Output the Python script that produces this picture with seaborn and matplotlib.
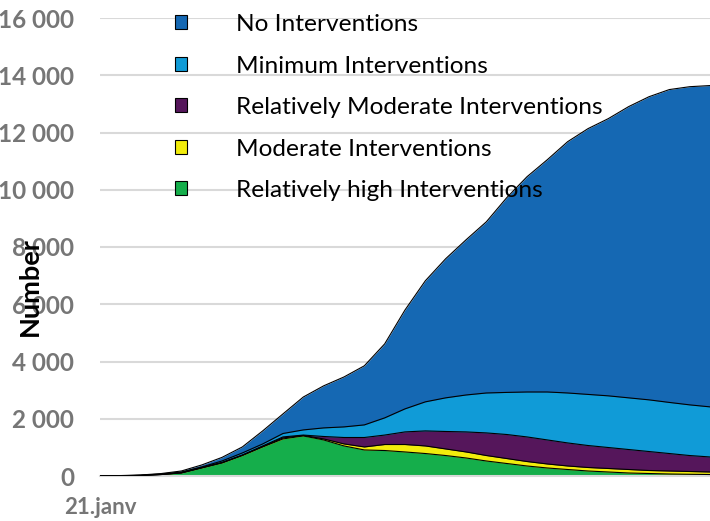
import numpy as np
import pandas as pd
import seaborn as sns
import matplotlib.pyplot as plt
from matplotlib.patches import Patch
from matplotlib.ticker import FuncFormatter

# jours depuis le 21 janvier (pas de 4 jours)
days = list(range(0, 121, 4))

no_interv = [0, 15, 35, 85, 175, 385, 650, 1015, 1575, 2170, 2760, 3150, 3460, 3850,
             4615, 5800, 6820, 7590, 8250, 8880, 9720, 10455, 11050, 11680, 12135,
             12485, 12905, 13250, 13500, 13600, 13640]
min_interv = [0, 10, 25, 70, 140, 315, 525, 805, 1120, 1485, 1610, 1680, 1715, 1785,
              2030, 2345, 2590, 2730, 2830, 2900, 2920, 2935, 2935, 2900, 2850, 2800,
              2730, 2660, 2570, 2485, 2415]
rel_mod_interv = [0, 8, 20, 55, 115, 295, 475, 735, 1050, 1365, 1430, 1380, 1345, 1345,
                  1430, 1540, 1575, 1555, 1540, 1505, 1450, 1365, 1260, 1155, 1065, 995,
                  925, 855, 785, 715, 665]
mod_interv = [0, 8, 19, 52, 110, 287, 465, 725, 1030, 1330, 1415, 1295, 1120, 1015,
              1100, 1100, 1050, 945, 840, 715, 610, 505, 420, 350, 297, 262, 227, 192,
              175, 157, 140]
rel_high_interv = [0, 8, 18, 50, 105, 280, 455, 715, 1015, 1295, 1400, 1260, 1050, 910,
                   890, 840, 785, 715, 630, 525, 437, 350, 280, 227, 175, 140, 105, 87,
                   70, 60, 52]

series_names = ["No Interventions", "Minimum Interventions",
                "Relatively Moderate Interventions", "Moderate Interventions",
                "Relatively high Interventions"]
colors = ["#1568b3", "#109bd7", "#55165b", "#f2ec0c", "#15ae4b"]

df = pd.DataFrame({"day": days,
                   series_names[0]: no_interv,
                   series_names[1]: min_interv,
                   series_names[2]: rel_mod_interv,
                   series_names[3]: mod_interv,
                   series_names[4]: rel_high_interv})
df_long = df.melt(id_vars="day", var_name="scenario", value_name="number")

sns.set_theme(style="whitegrid")
plt.rcParams['font.family'] = ['Lato', 'DejaVu Sans']

fig = plt.figure(figsize=(7.1, 5.21), dpi=100)
ax = fig.add_axes([100 / 710, 45 / 521, 610 / 710, 458 / 521])

# aires superposées (pas empilées), la plus grande derrière
for name, col in zip(series_names, colors):
    ax.fill_between(df["day"], 0, df[name], color=col, linewidth=0, zorder=2)
sns.lineplot(data=df_long, x="day", y="number", hue="scenario",
             palette=["black"] * 5, linewidth=0.8, legend=False, ax=ax, zorder=3)

ax.set_xlim(0, 120)
ax.set_ylim(0, 16000)
ax.set_yticks(range(0, 16001, 2000))
ax.yaxis.set_major_formatter(FuncFormatter(lambda v, p: f"{int(v):,}".replace(",", " ")))
ax.set_xticks([0])
ax.set_xticklabels(["21.janv"])
ax.grid(axis="y", color="#d9d9d9", linewidth=1.5)
ax.grid(axis="x", visible=False)
for s in ["left", "right", "top"]:
    ax.spines[s].set_visible(False)
ax.spines["bottom"].set_color("#d9d9d9")
ax.spines["bottom"].set_linewidth(1.5)
ax.set_axisbelow(True)

ax.tick_params(axis="y", length=0, pad=18.7, labelsize=17.5, labelcolor="#767676")
ax.tick_params(axis="x", length=5, width=1.2, color="#d9d9d9", pad=10,
               labelsize=16, labelcolor="#767676")
for lab in ax.get_xticklabels() + ax.get_yticklabels():
    lab.set_fontweight("bold")

ax.set_xlabel("")
ax.set_ylabel("Number", fontsize=19.5, fontweight="bold", color="black")
ax.yaxis.set_label_coords(-58 / 610, (476 - 287) / 458)

handles = [Patch(facecolor=c, edgecolor="black", linewidth=0.8) for c in colors]
leg = fig.legend(handles, series_names, loc="upper left",
                 bbox_to_anchor=(175 / 710, 1 - 14 / 521),
                 frameon=False, fontsize=17.6, handlelength=0.5, handleheight=0.5,
                 handletextpad=2.0, labelspacing=0.84, borderpad=0, borderaxespad=0)
for t in leg.get_texts():
    t.set_color("black")

fig.savefig("out.png", dpi=100)
